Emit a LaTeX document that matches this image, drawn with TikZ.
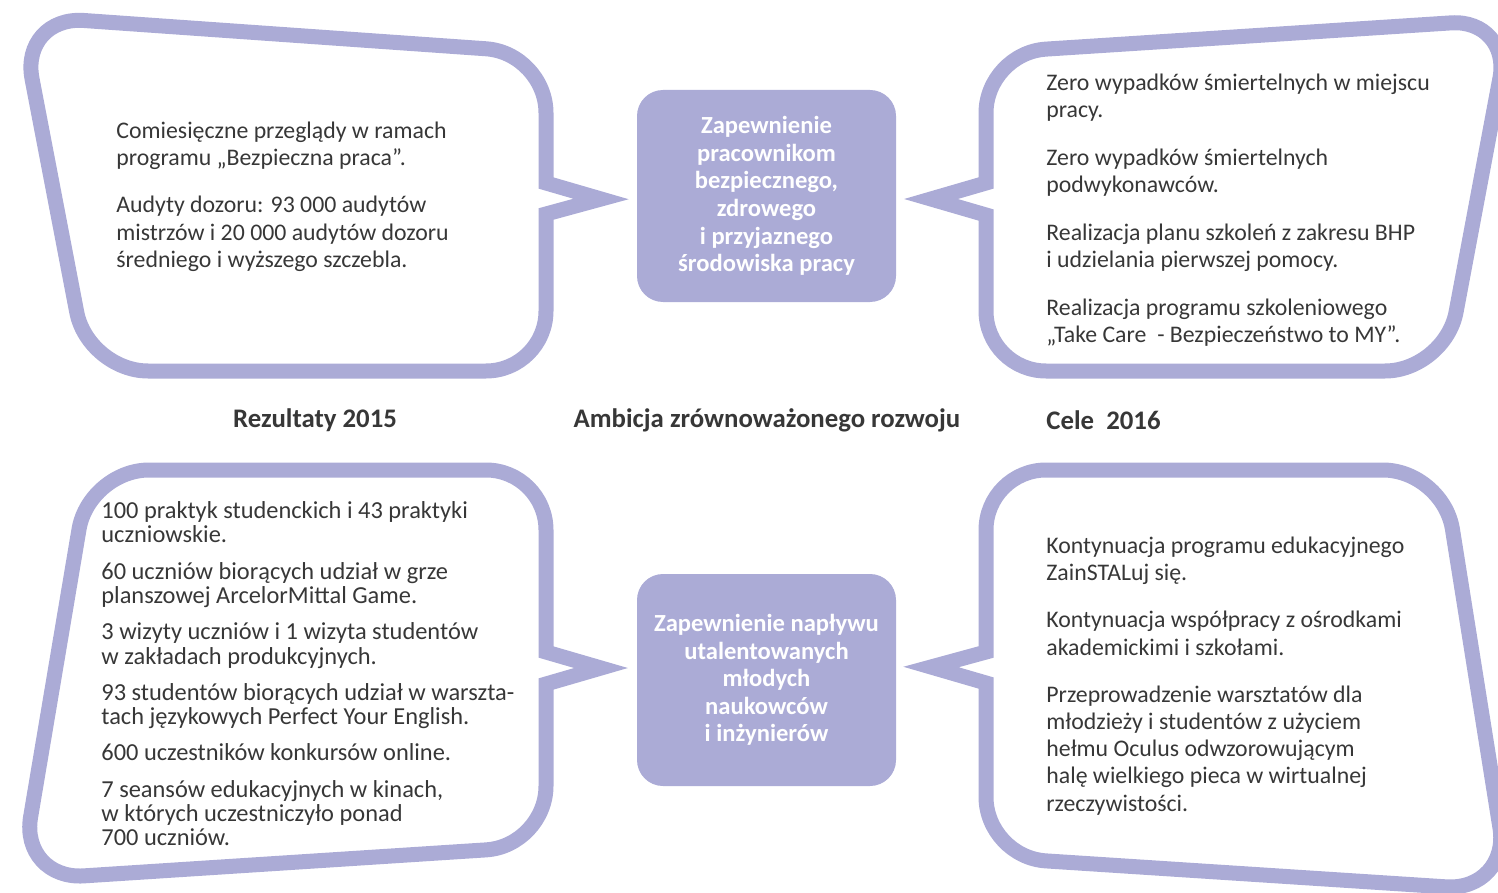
\documentclass[tikz,border=0pt]{standalone}
\usepackage{fontspec}
\usetikzlibrary{calc}
\setmainfont{Carlito}
\definecolor{lav}{RGB}{171,171,214}
\definecolor{txt}{RGB}{55,55,55}
% rounded corner: #1 = cut-back distance, at #2, coming from the direction of #3, leaving towards #4
\def\rc#1#2#3#4{-- ($(#2)!#1!(#3)$) .. controls ($(#2)!0.448*#1!(#3)$) and ($(#2)!0.448*#1!(#4)$) .. ($(#2)!#1!(#4)$)}
\begin{document}
\begin{tikzpicture}[x=0.5pt,y=-0.5pt,
  bubble/.style={draw=lav, line width=7.5pt, line join=miter, miter limit=10},
  bodytext/.style={anchor=north west, inner sep=0pt, align=left, text=txt, font=\fontsize{11.9}{13.6}\selectfont},
  tighttext/.style={bodytext, font=\fontsize{12.2}{12.2}\selectfont},
  centerbox/.style={fill=lav, rounded corners=13pt, minimum width=129.5pt, minimum height=106pt, inner sep=0pt,
     text=white, align=center, font=\bfseries\fontsize{12.3}{13.8}\selectfont},
  caption/.style={inner sep=0pt, text=txt, font=\bfseries\fontsize{13.4}{14}\selectfont}
]
\useasboundingbox (0,0) rectangle (1498,893);

% ---------- top-left bubble
\coordinate (aTL) at (20,16);   \coordinate (aTR) at (546,53);
\coordinate (aBR) at (546,371); \coordinate (aBL) at (88,371);
\coordinate (aP1) at (546,183); \coordinate (aTip) at (601,199); \coordinate (aP2) at (546,214);
\coordinate (aM) at (300,35.7);
\draw[bubble] (aM) \rc{30pt}{aTR}{aTL}{aBR} -- (aP1) -- (aTip) -- (aP2) \rc{30pt}{aBR}{aTR}{aBL} \rc{30pt}{aBL}{aBR}{aTL} \rc{32pt}{aTL}{aBL}{aTR} -- cycle;

% ---------- top-right bubble
\coordinate (bTL) at (986,53);   \coordinate (bTR) at (1511,19);
\coordinate (bBR) at (1445,371); \coordinate (bBL) at (986,371);
\coordinate (bP1) at (986,183);  \coordinate (bTip) at (931,199); \coordinate (bP2) at (986,215);
\coordinate (bM) at (1240,36.6);
\draw[bubble] (bM) \rc{30pt}{bTR}{bTL}{bBR} \rc{30pt}{bBR}{bTR}{bBL} \rc{30pt}{bBL}{bBR}{bTL} -- (bP2) -- (bTip) -- (bP1) \rc{30pt}{bTL}{bBL}{bTR} -- cycle;

% ---------- bottom-left bubble
\coordinate (cTL) at (89,470);   \coordinate (cTR) at (546,470);
\coordinate (cBR) at (546,846);  \coordinate (cBL) at (20,880);
\coordinate (cP1) at (546,652);  \coordinate (cTip) at (601,668); \coordinate (cP2) at (546,684);
\coordinate (cM) at (300,470);
\draw[bubble] (cM) \rc{30pt}{cTR}{cTL}{cBR} -- (cP1) -- (cTip) -- (cP2) \rc{30pt}{cBR}{cTR}{cBL} \rc{32pt}{cBL}{cBR}{cTL} \rc{30pt}{cTL}{cBL}{cTR} -- cycle;

% ---------- bottom-right bubble
\coordinate (dTL) at (986,470);  \coordinate (dTR) at (1443,470);
\coordinate (dBR) at (1510,891); \coordinate (dBL) at (986,857);
\coordinate (dP1) at (986,652);  \coordinate (dTip) at (931,667); \coordinate (dP2) at (986,683);
\coordinate (dM) at (1200,470);
\draw[bubble] (dM) \rc{30pt}{dTR}{dTL}{dBR} \rc{32pt}{dBR}{dTR}{dBL} \rc{30pt}{dBL}{dBR}{dTL} -- (dP2) -- (dTip) -- (dP1) \rc{30pt}{dTL}{dBL}{dTR} -- cycle;

% ---------- central boxes
\node[centerbox] (goal1) at (766.5,196) {Zapewnienie\\pracownikom\\bezpiecznego,\\zdrowego\\i przyjaznego\\środowiska pracy};
\node[centerbox] (goal2) at (766.5,680) {Zapewnienie napływu\\utalentowanych\\młodych\\naukowców\\i inżynierów};

% ---------- captions
\node[caption] (cap1) at (315,420) {Rezultaty 2015};
\node[caption] (cap2) at (767,420) {Ambicja zrównoważonego rozwoju};
\node[caption, anchor=west] (cap3) at (1046,420) {Cele\ \ 2016};

% ---------- texts
\node[bodytext] (t1) at (116,119) {\strut Comiesięczne przeglądy w ramach\\programu „Bezpieczna praca”.\\[10pt]
Audyty dozoru: 93 000 audytów\\mistrzów i 20 000 audytów dozoru\\średniego i wyższego szczebla.};

\node[bodytext] (t2) at (1046,71) {\strut Zero wypadków śmiertelnych w miejscu\\pracy.\\[10.3pt]
Zero wypadków śmiertelnych\\podwykonawców.\\[10.3pt]
Realizacja planu szkoleń z zakresu BHP\\i udzielania pierwszej pomocy.\\[10.3pt]
Realizacja programu szkoleniowego\\„Take Care\ \ - Bezpieczeństwo to MY”.};

\node[tighttext] (t3) at (101,501) {\strut 100 praktyk studenckich i 43 praktyki\\uczniowskie.\\[5.9pt]
60 uczniów biorących udział w grze\\planszowej ArcelorMittal Game.\\[5.9pt]
3 wizyty uczniów i 1 wizyta studentów\\w zakładach produkcyjnych.\\[5.9pt]
93 studentów biorących udział w warszta-\\tach językowych Perfect Your English.\\[5.9pt]
600 uczestników konkursów online.\\[5.9pt]
7 seansów edukacyjnych w kinach,\\w których uczestniczyło ponad\\700 uczniów.};

\node[bodytext] (t4) at (1046,534) {\strut Kontynuacja programu edukacyjnego\\ZainSTALuj się.\\[10pt]
Kontynuacja współpracy z ośrodkami\\akademickimi i szkołami.\\[10pt]
Przeprowadzenie warsztatów dla\\młodzieży i studentów z użyciem\\hełmu Oculus odwzorowującym\\halę wielkiego pieca w wirtualnej\\rzeczywistości.};
\end{tikzpicture}
\end{document}
